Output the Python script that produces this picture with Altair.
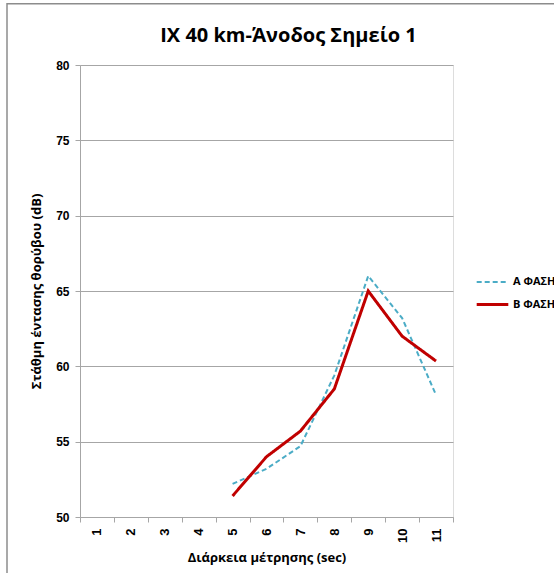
import altair as alt
import pandas as pd

seconds = [5, 6, 7, 8, 9, 10, 11]
phase_a = [52.2, 53.2, 54.7, 59.4, 66.0, 63.2, 58.1]
phase_b = [51.4, 54.0, 55.7, 58.5, 65.0, 62.0, 60.35]
categories = [str(i) for i in range(1, 12)]
series_names = ["Α ΦΑΣΗ", "Β ΦΑΣΗ"]

rows = []
for s, a, b in zip(seconds, phase_a, phase_b):
    rows.append({"sec": str(s), "db": a, "series": series_names[0]})
    rows.append({"sec": str(s), "db": b, "series": series_names[1]})
df = pd.DataFrame(rows)

W, H = 373, 452

x_enc = alt.X(
    "sec:O",
    scale=alt.Scale(type="band", domain=categories, paddingInner=0, paddingOuter=0),
    axis=alt.Axis(
        title="Διάρκεια μέτρησης (sec)",
        labelAngle=270,
        labelAlign="right",
        labelBaseline="middle",
        labelPadding=6,
        tickBand="extent",
        tickSize=5,
        tickColor="#a6a6a6",
        domainColor="#a6a6a6",
        grid=False,
        labelFont="Liberation Sans",
        labelFontWeight="bold",
        labelFontSize=13,
        labelColor="#000000",
        titleFont="Open Sans",
        titleFontWeight="bold",
        titleFontSize=13,
        titleColor="#000000",
        titlePadding=9,
    ),
)
y_enc = alt.Y(
    "db:Q",
    scale=alt.Scale(domain=[50, 80], nice=False, zero=False),
    axis=alt.Axis(
        title="Στάθμη έντασης θορύβου (dB)",
        values=[50, 55, 60, 65, 70, 75, 80],
        tickSize=5,
        tickColor="#a6a6a6",
        domainColor="#a6a6a6",
        gridColor="#a6a6a6",
        grid=True,
        labelFont="Liberation Sans",
        labelFontWeight="bold",
        labelFontSize=12,
        labelColor="#000000",
        labelPadding=6,
        titleFont="Open Sans",
        titleFontWeight="bold",
        titleFontSize=13,
        titleColor="#000000",
        titlePadding=12,
    ),
)

lines = alt.Chart(df).mark_line().encode(
    x=x_enc,
    y=y_enc,
    color=alt.Color(
        "series:N",
        scale=alt.Scale(domain=series_names, range=["#4bacc6", "#c00000"]),
        legend=alt.Legend(
            title=None,
            orient="none",
            legendX=W + 22,
            legendY=200,
            symbolType="stroke",
            symbolSize=1000,
            labelFont="Open Sans",
            labelFontWeight="bold",
            labelFontSize=11,
            labelColor="#000000",
            rowPadding=0,
            labelOffset=3,
            symbolStrokeWidth=2.5,
        ),
    ),
    strokeDash=alt.StrokeDash(
        "series:N",
        scale=alt.Scale(domain=series_names, range=[[5, 3], [1, 0]]),
        legend=None,
    ),
    strokeWidth=alt.StrokeWidth(
        "series:N",
        scale=alt.Scale(domain=series_names, range=[2, 3]),
        legend=None,
    ),
)

frame_src = pd.DataFrame({"k": [0]})
left_edge = alt.Chart(frame_src).mark_rule(color="#8c8c8c", strokeWidth=1.5).encode(
    x=alt.value(-73), y=alt.value(-62), y2=alt.value(H + 200)
)
top_edge = alt.Chart(frame_src).mark_rect(color="#8c8c8c").encode(
    x=alt.value(-73), x2=alt.value(W + 200), y=alt.value(-62), y2=alt.value(-60.5)
)

chart = alt.layer(left_edge, top_edge, lines).properties(
    width=W,
    height=H,
    title=alt.TitleParams(
        "ΙΧ 40 km-Άνοδος Σημείο 1",
        font="Open Sans",
        fontSize=20,
        fontWeight="bold",
        color="#000000",
        anchor="middle",
        frame="group",
        offset=18,
        dy=62,
        dx=22,
    ),
    autosize=alt.AutoSizeParams(type="none"),
    padding={"left": 80, "top": 65, "right": 101, "bottom": 56},
).configure_view(stroke=None).configure(background="white")

chart.save("out.html", embed_options={"renderer": "svg", "actions": False})
